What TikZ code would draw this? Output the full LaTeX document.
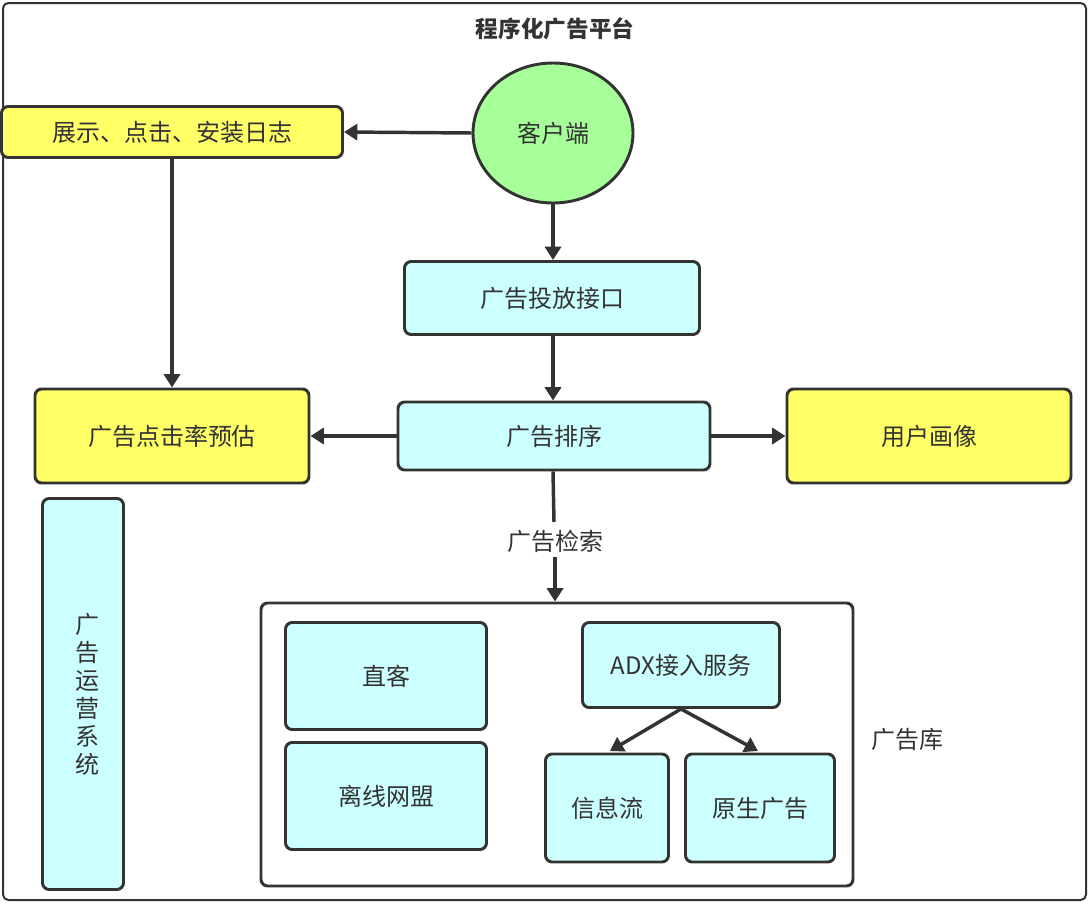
\documentclass[tikz,border=0pt]{standalone}
\usepackage{fontspec}
\setmainfont{Noto Sans CJK SC}
\usetikzlibrary{arrows.meta,shapes.geometric}
\definecolor{cy}{HTML}{CCFFFF}
\definecolor{yl}{HTML}{FFFF66}
\definecolor{gr}{HTML}{A6FF99}
\definecolor{ln}{HTML}{333333}
\begin{document}
\begin{tikzpicture}[x=0.75pt,y=-0.75pt,
 box/.style={draw=ln,line width=2.2pt,rounded corners=5pt,font=\fontsize{18}{21}\selectfont,text=ln},
 arr/.style={draw=ln,line width=2.6pt,-{Triangle[length=10pt,width=12pt]}}]
\useasboundingbox (0,0) rectangle (1090,903);
\draw[line width=1.5pt,draw=ln,rounded corners=4pt] (3,3) rectangle (1086,900);
\node[font=\bfseries\fontsize{17}{20}\selectfont,text=ln] (title) at (555,29) {程序化广告平台};
\node[ellipse,box,fill=gr,minimum width=160*0.75pt,minimum height=140*0.75pt] (cl) at (553,133) {客户端};
\node[box,fill=yl,minimum width=341*0.75pt,minimum height=51*0.75pt] (log) at (172,132) {展示、点击、安装日志};
\node[box,fill=cy,minimum width=295*0.75pt,minimum height=73*0.75pt] (api) at (552,298) {广告投放接口};
\node[box,fill=cy,minimum width=312*0.75pt,minimum height=68*0.75pt] (rank) at (554,436) {广告排序};
\node[box,fill=yl,minimum width=274*0.75pt,minimum height=94*0.75pt] (ctr) at (172,436) {广告点击率预估};
\node[box,fill=yl,minimum width=284*0.75pt,minimum height=94*0.75pt] (user) at (929,436) {用户画像};
\node[box,fill=cy,minimum width=81*0.75pt,minimum height=391*0.75pt,align=center,text width=1.2em] (ops) at (83,694) {广\\告\\运\\营\\系\\统};
\node[box,fill=white,minimum width=592*0.75pt,minimum height=283*0.75pt] (lib) at (557,744.5) {};
\node[font=\fontsize{18}{21}\selectfont,text=ln] (libl) at (907,739) {广告库};
\node[box,fill=cy,minimum width=201*0.75pt,minimum height=107*0.75pt] (zk) at (386,676) {直客};
\node[box,fill=cy,minimum width=201*0.75pt,minimum height=107*0.75pt] (lx) at (386,796) {离线网盟};
\node[box,fill=cy,minimum width=197*0.75pt,minimum height=85*0.75pt] (adx) at (681,665) {ADX接入服务};
\node[box,fill=cy,minimum width=123*0.75pt,minimum height=108*0.75pt] (xx) at (607,808) {信息流};
\node[box,fill=cy,minimum width=149*0.75pt,minimum height=108*0.75pt] (ys) at (760,808) {原生广告};
\coordinate (c1) at (610,751);
\coordinate (c2) at (758,751);
\draw[arr] (cl.west) -- (log.east);
\draw[arr] (log.south) -- (ctr.north);
\draw[arr] (cl.south) -- (api.north -| cl.south);
\draw[arr] (api.south -| cl.south) -- (rank.north -| cl.south);
\draw[arr] (rank.west) -- (ctr.east);
\draw[arr] (rank.east) -- (user.west);
\draw[line width=2.6pt,draw=ln] (rank.south -| cl.south) -- (554,522);
\node[font=\fontsize{18}{21}\selectfont,text=ln,fill=white] (ret) at (555,541) {广告检索};
\draw[arr] (ret.south) -- (lib.north -| ret.south);
\draw[arr] (adx.south) -- (c1);
\draw[arr] (adx.south) -- (c2);
\end{tikzpicture}
\end{document}
